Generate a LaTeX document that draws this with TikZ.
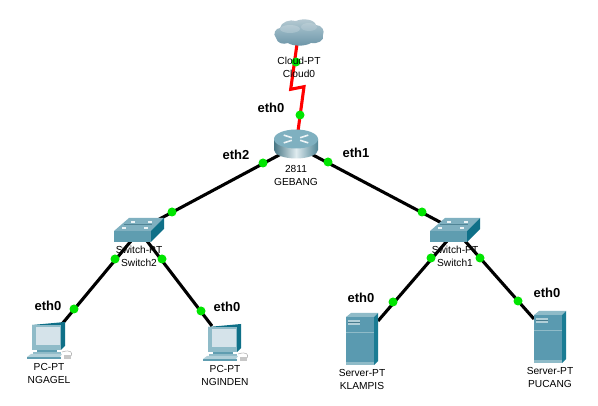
\documentclass[tikz,border=0pt]{standalone}
\usepackage{fontspec}
\setmainfont{Liberation Sans}
\usetikzlibrary{calc}
\definecolor{swtop}{HTML}{7FB0C0}
\definecolor{swfront}{HTML}{5F9DB0}
\definecolor{swside}{HTML}{0F7088}
\definecolor{srvfront}{HTML}{5A9AB0}
\definecolor{srvtop}{HTML}{8FBBC8}
\definecolor{srvside}{HTML}{1A7C94}
\definecolor{cloudpale}{HTML}{B8CBD3}
\definecolor{cloudmid}{HTML}{8FB0BE}
\definecolor{clouddark}{HTML}{6A93A6}
\definecolor{screenc}{HTML}{D5E3EA}
\tikzset{
  x=1pt,y=-1pt,
  linkline/.style={line width=3.1pt,black},
  redline/.style={line width=3.1pt,red,line join=miter,miter limit=10},
  portdot/.style={circle,fill=green!90!black,inner sep=0pt,minimum size=9pt},
  devlabel/.style={font=\fontsize{10.2}{12}\selectfont,align=center,text=black,inner sep=0pt},
  portlabel/.style={font=\fontsize{13}{15}\selectfont\bfseries,inner sep=0pt},
}
\newcommand{\swbox}[3]{%
 \begin{scope}[shift={(#1,#2)}]
  \coordinate (#3) at (25,12);
  \fill[swtop] (0,13) -- (15,0) -- (50,0) -- (37,13) -- cycle;
  \fill[swfront] (0,13) -- (37,13) -- (37,24) -- (0,24) -- cycle;
  \fill[swside] (37,13) -- (50,0) -- (50,11) -- (37,24) -- cycle;
  \foreach \a/\b in {8/9.5,30/9.5,17/3,34/3}{\fill[white!85!swtop] (\a,\b) rectangle ++(3.5,1.6);}
  \draw[swfront!85!black,line width=.4pt] (10,6.5) -- (38,6.5);
 \end{scope}}
\newcommand{\pcbox}[3]{%
 \begin{scope}[shift={(#1,#2)}]
  \coordinate (#3) at (20,18);
  \fill[swside] (5,3) -- (38,0) -- (38,24) -- (34,28) -- (5,28) -- cycle;
  \fill[srvtop] (5,3) -- (34,3) -- (34,28) -- (5,28) -- cycle;
  \fill[screenc] (9,5) rectangle (33,23);
  \fill[swfront] (10,28) rectangle (30,30);
  \fill[srvtop] (6,30) -- (34,30) -- (34,32) -- (6,32) -- cycle;
  \fill[swtop!60!white] (4,32) -- (35,32) -- (33,35) -- (0,35) -- cycle;
  \fill[swfront] (0,35) rectangle (34,37);
  \draw[black!40,line width=.4pt] (35,30) .. controls (44,27) and (46,31) .. (44,34);
  \fill[black!22] (37,33) rectangle (44,37);
 \end{scope}}
\newcommand{\srvbox}[3]{%
 \begin{scope}[shift={(#1,#2)}]
  \coordinate (#3) at (16,26);
  \fill[srvtop] (0,4) -- (5,0) -- (32,0) -- (28,4) -- cycle;
  \fill[srvfront] (0,4) rectangle (28,52);
  \fill[srvside] (28,4) -- (32,0) -- (32,48) -- (28,52) -- cycle;
  \fill[srvtop!70!white] (2,7) rectangle (14,12);
  \draw[srvfront!80!black,line width=.4pt] (2,9) -- (14,9);
  \draw[srvtop,line width=.5pt] (0,19) -- (28,19);
  \fill[srvtop] (0,49) rectangle (28,52);
 \end{scope}}
\begin{document}
\begin{tikzpicture}
\useasboundingbox (0,0) rectangle (598,406);
\fill[white] (0,0) rectangle (598,406);
% device anchors
\coordinate (cloud) at (297,44);
\coordinate (rtr) at (296,146);
\coordinate (z1) at (290.7,89.3);
\coordinate (z2) at (304,86.7);
\coordinate (s2) at (139,230);
\coordinate (s1) at (455,230);
\coordinate (s2l) at (131,241);
\coordinate (s2r) at (147,241);
\coordinate (s1l) at (447,241);
\coordinate (s1r) at (465,241);
\coordinate (pca) at (62,324);
\coordinate (pcb) at (212,326);
\coordinate (sva) at (378,321);
\coordinate (svb) at (534,319);
% links
\draw[linkline] (rtr) -- (s2);
\draw[linkline] (rtr) -- (s1);
\draw[linkline] (s2l) -- (pca);
\draw[linkline] (s2r) -- (pcb);
\draw[linkline] (s1l) -- (sva);
\draw[linkline] (s1r) -- (svb);
\draw[redline] (cloud) -- (z1) -- (z2) -- (rtr);
% cloud
\shade[top color=cloudpale,bottom color=clouddark,middle color=cloudmid]
 (276,38) .. controls (272,34) and (276,28) .. (280,28)
 .. controls (281,22) and (290,19) .. (296,21)
 .. controls (303,18) and (314,19) .. (316,25)
 .. controls (322,25) and (325,31) .. (323,35)
 .. controls (325,41) and (317,44) .. (311,43)
 .. controls (304,47) and (292,46) .. (288,43)
 .. controls (283,45) and (277,43) .. (276,38) -- cycle;
\fill[white,opacity=.2] (290,29) ellipse[x radius=10,y radius=4];
\fill[white,opacity=.15] (309,27) ellipse[x radius=8,y radius=4];
% router
\shade[left color=swfront!75!black,right color=swfront!85!black,middle color=white!75!swtop]
 (274,139) -- (274,150) arc[start angle=180,end angle=0,x radius=22,y radius=8.5] -- (318,139) -- cycle;
\fill[swtop] (296,139) ellipse[x radius=22,y radius=9.5];
\foreach \r in {35,145,215,325}{\draw[white!85!swtop,line width=1.6pt,shift={(296,139)},y=-.45pt] (\r:5) -- (\r:15);}
% switches, hosts
\swbox{114}{218}{swb}
\swbox{430}{218}{swa}
\pcbox{27}{322}{pcx}
\pcbox{203}{324}{pcy}
\srvbox{346}{313}{svx}
\srvbox{534}{311}{svy}
% port dots
\foreach \n/\px/\py in {d1/296/62,d2/300/115,d3/263/163,d4/328/162,d5/172/212,d6/422/212,d7/115/259,d8/162/259,d9/74/309,d10/201/311,d11/431/258,d12/480/258,d13/393/302,d14/518/301}
  \node[portdot] (\n) at (\px,\py) {};
% device labels
\node[devlabel] (lcl) at (299,67) {Cloud-PT\\[1pt]Cloud0};
\node[devlabel] (lrt) at (296,175.5) {2811\\[1pt]GEBANG};
\node[devlabel] (lsb) at (139,256.5) {Switch-PT\\[1pt]Switch2};
\node[devlabel] (lsa) at (455,256.5) {Switch-PT\\[1pt]Switch1};
\node[devlabel] (lpa) at (49,373.5) {PC-PT\\[1pt]NGAGEL};
\node[devlabel] (lpb) at (225,375.5) {PC-PT\\[1pt]NGINDEN};
\node[devlabel] (lva) at (362,379.5) {Server-PT\\[1pt]KLAMPIS};
\node[devlabel] (lvb) at (550,377.5) {Server-PT\\[1pt]PUCANG};
% port labels
\node[portlabel] (e1) at (271,108) {eth0};
\node[portlabel] (e2) at (236,155) {eth2};
\node[portlabel] (e3) at (356,153) {eth1};
\node[portlabel] (e4) at (48,306) {eth0};
\node[portlabel] (e5) at (227,307) {eth0};
\node[portlabel] (e6) at (361,298) {eth0};
\node[portlabel] (e7) at (547,293) {eth0};
\end{tikzpicture}
\end{document}
